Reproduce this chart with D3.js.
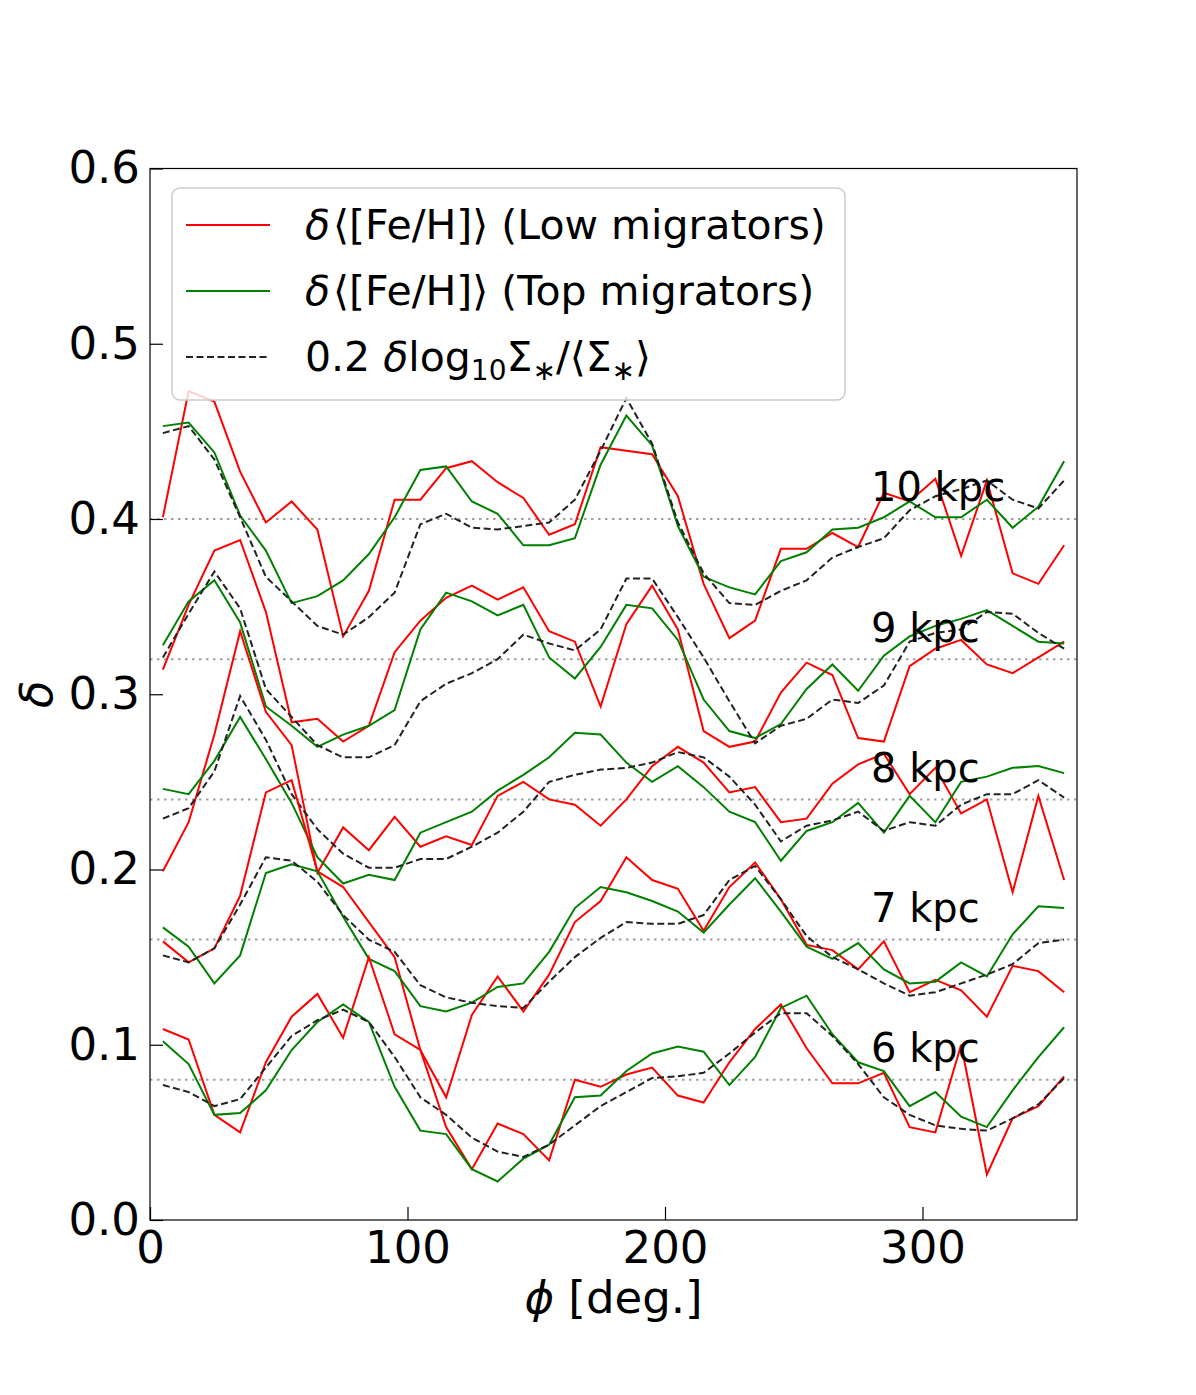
<!DOCTYPE html>
<html><head><meta charset="utf-8">
<script src="https://cdn.jsdelivr.net/npm/d3@7"></script>
<style>body{margin:0;background:#fff}svg{display:block}text{font-family:"DejaVu Sans",sans-serif}</style>
</head><body><div id="c"></div>
<script>
const phi = [5,15,25,35,45,55,65,75,85,95,105,115,125,135,145,155,165,175,185,195,205,215,225,235,245,255,265,275,285,295,305,315,325,335,345,355];
const radii = [10,9,8,7,6];
const refLevels = [0.40,0.32,0.24,0.16,0.08];
const yTicks = [0,0.1,0.2,0.3,0.4,0.5,0.6];
const xTicks = [0,100,200,300];
const legendLabels = ["Low migrators","Top migrators"];

const low10 = [0.401,0.473,0.467,0.427,0.398,0.410,0.394,0.333,0.359,0.411,0.411,0.429,0.433,0.421,0.412,0.391,0.397,0.441,0.439,0.437,0.413,0.363,0.332,0.342,0.383,0.383,0.392,0.384,0.415,0.410,0.423,0.379,0.422,0.369,0.363,0.385];
const top10 = [0.453,0.455,0.438,0.402,0.382,0.352,0.356,0.365,0.380,0.401,0.428,0.430,0.410,0.403,0.385,0.385,0.389,0.431,0.459,0.442,0.396,0.367,0.361,0.357,0.376,0.381,0.394,0.395,0.401,0.410,0.401,0.401,0.411,0.395,0.407,0.433];
const sig10 = [0.449,0.453,0.434,0.401,0.367,0.353,0.339,0.334,0.344,0.358,0.397,0.403,0.395,0.394,0.396,0.398,0.411,0.439,0.469,0.443,0.398,0.369,0.352,0.351,0.359,0.365,0.378,0.384,0.389,0.405,0.413,0.417,0.422,0.411,0.406,0.422];

const low9 = [0.314,0.351,0.382,0.388,0.347,0.284,0.286,0.273,0.282,0.324,0.342,0.355,0.362,0.354,0.361,0.336,0.330,0.293,0.340,0.362,0.337,0.279,0.270,0.273,0.301,0.318,0.311,0.275,0.273,0.316,0.326,0.331,0.317,0.312,0.321,0.330];
const top9 = [0.328,0.353,0.365,0.341,0.293,0.282,0.270,0.277,0.282,0.291,0.337,0.358,0.353,0.345,0.351,0.321,0.309,0.327,0.351,0.349,0.331,0.297,0.279,0.275,0.283,0.303,0.317,0.302,0.322,0.333,0.339,0.343,0.348,0.339,0.330,0.329];
const sig9 = [0.321,0.346,0.370,0.349,0.303,0.287,0.271,0.264,0.264,0.271,0.296,0.306,0.312,0.320,0.334,0.329,0.325,0.337,0.366,0.366,0.344,0.321,0.296,0.272,0.282,0.286,0.297,0.295,0.305,0.330,0.335,0.337,0.347,0.346,0.335,0.326];

const low8 = [0.199,0.227,0.277,0.336,0.290,0.271,0.198,0.224,0.211,0.230,0.213,0.219,0.214,0.242,0.250,0.240,0.237,0.225,0.240,0.259,0.270,0.261,0.244,0.247,0.227,0.229,0.249,0.260,0.266,0.243,0.258,0.232,0.240,0.187,0.242,0.194];
const top8 = [0.246,0.243,0.262,0.287,0.263,0.238,0.207,0.192,0.197,0.194,0.221,0.227,0.233,0.245,0.254,0.264,0.278,0.277,0.261,0.250,0.259,0.247,0.233,0.227,0.205,0.222,0.227,0.238,0.221,0.242,0.227,0.250,0.253,0.258,0.259,0.255];
const sig8 = [0.229,0.235,0.256,0.299,0.274,0.243,0.223,0.209,0.201,0.201,0.206,0.206,0.213,0.221,0.233,0.250,0.254,0.257,0.258,0.261,0.267,0.264,0.253,0.237,0.216,0.225,0.228,0.233,0.222,0.227,0.225,0.237,0.243,0.243,0.251,0.241];

const low7 = [0.159,0.147,0.155,0.185,0.244,0.251,0.199,0.190,0.170,0.150,0.097,0.070,0.117,0.139,0.119,0.140,0.170,0.182,0.207,0.194,0.189,0.165,0.190,0.204,0.183,0.157,0.154,0.143,0.159,0.130,0.137,0.131,0.116,0.145,0.142,0.130];
const top7 = [0.167,0.156,0.135,0.151,0.198,0.203,0.199,0.173,0.149,0.142,0.122,0.119,0.124,0.133,0.135,0.153,0.178,0.190,0.187,0.182,0.176,0.164,0.180,0.195,0.176,0.156,0.149,0.158,0.143,0.135,0.136,0.147,0.139,0.163,0.179,0.178];
const sig7 = [0.151,0.147,0.155,0.180,0.207,0.205,0.193,0.174,0.160,0.153,0.134,0.127,0.124,0.122,0.121,0.136,0.150,0.161,0.170,0.169,0.169,0.174,0.194,0.202,0.183,0.162,0.150,0.143,0.135,0.128,0.130,0.135,0.140,0.146,0.158,0.160];

const low6 = [0.109,0.103,0.060,0.050,0.090,0.116,0.129,0.104,0.150,0.106,0.097,0.053,0.029,0.055,0.049,0.034,0.080,0.076,0.083,0.087,0.071,0.067,0.090,0.109,0.123,0.098,0.078,0.078,0.084,0.053,0.050,0.100,0.026,0.058,0.065,0.082];
const top6 = [0.102,0.089,0.060,0.061,0.074,0.097,0.113,0.123,0.113,0.076,0.051,0.049,0.029,0.022,0.035,0.043,0.070,0.071,0.085,0.095,0.099,0.096,0.077,0.093,0.121,0.128,0.106,0.090,0.085,0.065,0.073,0.059,0.053,0.074,0.093,0.110];
const sig6 = [0.077,0.073,0.065,0.069,0.087,0.105,0.114,0.120,0.113,0.093,0.070,0.060,0.047,0.039,0.036,0.043,0.054,0.065,0.073,0.081,0.082,0.084,0.095,0.107,0.118,0.118,0.105,0.089,0.070,0.060,0.054,0.052,0.051,0.058,0.066,0.081];

const lowSeries = [low10,low9,low8,low7,low6];
const topSeries = [top10,top9,top8,top7,top6];
const sigSeries = [sig10,sig9,sig8,sig7,sig6];

const W = 1196, H = 1395;
const L = 150, R = 1077, T = 168.5, B = 1220;
const svg = d3.select("#c").append("svg").attr("width", W).attr("height", H);
svg.append("rect").attr("width", W).attr("height", H).attr("fill", "#fff");

const x = d3.scaleLinear().domain([0, 360]).range([L, R]);
const y = d3.scaleLinear().domain([0, 0.6]).range([B, T]);

const g = svg.append("g");
g.selectAll("line.ref").data(refLevels).join("line")
  .attr("x1", L).attr("x2", R).attr("y1", d => y(d)).attr("y2", d => y(d))
  .attr("stroke", "#a0a0a0").attr("stroke-width", 2).attr("stroke-dasharray", "2.5,4.5");

const line = d3.line().x((d, i) => x(phi[i])).y(d => y(d));
radii.forEach((r, k) => {
  g.append("path").attr("d", line(lowSeries[k])).attr("fill", "none").attr("stroke", "#ff0000").attr("stroke-width", 2);
  g.append("path").attr("d", line(topSeries[k])).attr("fill", "none").attr("stroke", "#008000").attr("stroke-width", 2);
  g.append("path").attr("d", line(sigSeries[k])).attr("fill", "none").attr("stroke", "#222").attr("stroke-width", 2).attr("stroke-dasharray", "7,3.5");
});
radii.forEach((r, k) => {
  g.append("text").attr("x", x(280)).attr("y", y(refLevels[k] + 0.01))
    .attr("font-size", 40).attr("fill", "#000").text(r + " kpc");
});

svg.append("rect").attr("x", L).attr("y", T).attr("width", R - L).attr("height", B - T)
  .attr("fill", "none").attr("stroke", "#000").attr("stroke-width", 1.2);

const ax = svg.append("g").attr("transform", `translate(0,${B})`)
  .call(d3.axisBottom(x).tickValues(xTicks).tickFormat(d3.format("d")).tickSizeInner(-13).tickSizeOuter(0).tickPadding(11));
const ay = svg.append("g").attr("transform", `translate(${L},0)`)
  .call(d3.axisLeft(y).tickValues(yTicks).tickFormat(d3.format(".1f")).tickSizeInner(-13).tickSizeOuter(0).tickPadding(10));
[ax, ay].forEach(a => {
  a.select(".domain").remove();
  a.selectAll("line").attr("stroke", "#000").attr("stroke-width", 1.2);
  a.selectAll("text").attr("font-family", "DejaVu Sans").attr("font-size", 45).attr("fill", "#000");
});

svg.append("text").attr("x", (L + R) / 2).attr("y", 1313).attr("text-anchor", "middle")
  .attr("font-size", 45).html('<tspan font-style="italic">ϕ</tspan> [deg.]');
svg.append("text").attr("transform", `translate(52,${(T + B) / 2}) rotate(-90)`).attr("text-anchor", "middle")
  .attr("font-size", 45).attr("font-style", "italic").text("δ");

const lg = svg.append("g");
lg.append("rect").attr("x", 172).attr("y", 188).attr("width", 673).attr("height", 212).attr("rx", 8)
  .attr("fill", "#fff").attr("fill-opacity", 0.8).attr("stroke", "#ccc").attr("stroke-width", 1.5);
const legY = [225, 291, 357];
const legStyles = [{c: "#ff0000", d: null}, {c: "#008000", d: null}, {c: "#222", d: "7,3.5"}];
legStyles.forEach((s, i) => {
  const l = lg.append("line").attr("x1", 186).attr("x2", 270).attr("y1", legY[i]).attr("y2", legY[i])
    .attr("stroke", s.c).attr("stroke-width", 2);
  if (s.d) l.attr("stroke-dasharray", s.d);
});
legendLabels.forEach((lab, i) => {
  lg.append("text").attr("x", 305).attr("y", legY[i] + 14).attr("font-size", 41)
    .html(`<tspan font-style="italic">δ</tspan><tspan dx="3">⟨</tspan>[Fe/H]⟩ (${lab})`);
});
lg.append("text").attr("x", 305).attr("y", legY[2] + 14).attr("font-size", 41)
  .html('0.2 <tspan font-style="italic">δ</tspan>log<tspan font-size="28" dy="9">10</tspan><tspan dy="-9">Σ</tspan><tspan font-size="28" dy="9">∗</tspan><tspan dy="-9">/⟨Σ</tspan><tspan font-size="28" dy="9">∗</tspan><tspan dy="-9">⟩</tspan>');
</script>
</body></html>
